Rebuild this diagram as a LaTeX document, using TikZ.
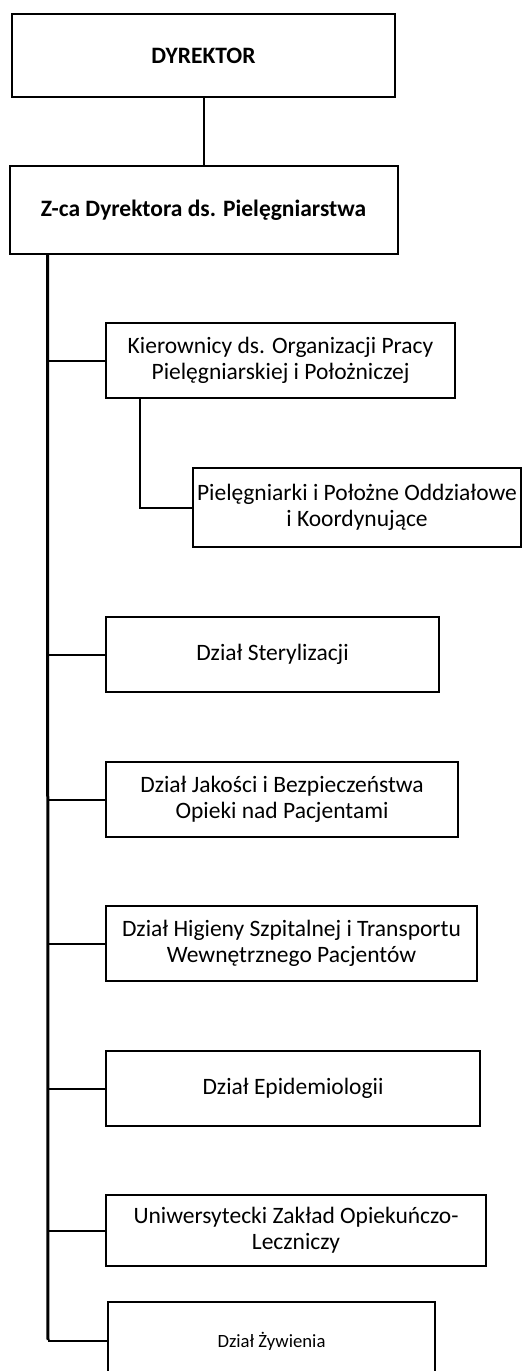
\documentclass[tikz,border=0pt]{standalone}
\usepackage{fontspec}
\setmainfont{Carlito}
\begin{document}
\begin{tikzpicture}[x=1pt,y=-1pt,
  box/.style={draw, line width=2pt, inner sep=0pt, align=center,
    font=\fontsize{23.5}{26}\selectfont},
  boldbox/.style={box, font=\fontsize{23.5}{26}\selectfont\bfseries},
  conn/.style={line width=2pt},
  trunk/.style={line width=3pt}]
\useasboundingbox (0,0) rectangle (531,1371);
\clip (0,0) rectangle (531,1371);
\fill[white] (0,0) rectangle (531,1371);
\node[boldbox, minimum width=383pt, minimum height=83pt] (dyr) at (203.5,55.5) {DYREKTOR};
\node[boldbox, minimum width=388pt, minimum height=88pt] (zca) at (203.5,210) {Z-ca Dyrektora ds. Pielęgniarstwa};
\node[box, minimum width=349pt, minimum height=75pt] (kier) at (280.5,360.5) {Kierownicy ds. Organizacji Pracy\\Pielęgniarskiej i Położniczej};
\node[box, minimum width=328pt, minimum height=79pt] (piel) at (357,507.5) {Pielęgniarki i Położne Oddziałowe\\i Koordynujące};
\node[box, minimum width=333pt, minimum height=75pt] (ster) at (272.5,654.5) {Dział Sterylizacji};
\node[box, minimum width=352pt, minimum height=75pt] (jak) at (282,799.5) {Dział Jakości i Bezpieczeństwa\\Opieki nad Pacjentami};
\node[box, minimum width=371pt, minimum height=75pt] (hig) at (291.5,943.5) {Dział Higieny Szpitalnej i Transportu\\Wewnętrznego Pacjentów};
\node[box, minimum width=374pt, minimum height=75pt] (epi) at (293,1088.5) {Dział Epidemiologii};
\node[box, minimum width=380pt, minimum height=71pt] (uni) at (296,1230.5) {Uniwersytecki Zakład Opiekuńczo-\\Leczniczy};
\node[box, font=\fontsize{18.7}{22}\selectfont, minimum width=327pt, minimum height=78pt] (zyw) at (271.5,1341) {Dział Żywienia};
\coordinate (tb) at (48,1340);
\draw[conn] (dyr.south) -- (zca.north);
\draw[trunk] ([xshift=39pt]zca.south west) -- (tb);
\foreach \n in {kier,ster,jak,hig,epi,uni,zyw}
  \draw[conn] (\n.west) -- (\n.west -| tb);
\draw[conn] ([xshift=35pt]kier.south west) |- (piel.west);
\end{tikzpicture}
\end{document}
